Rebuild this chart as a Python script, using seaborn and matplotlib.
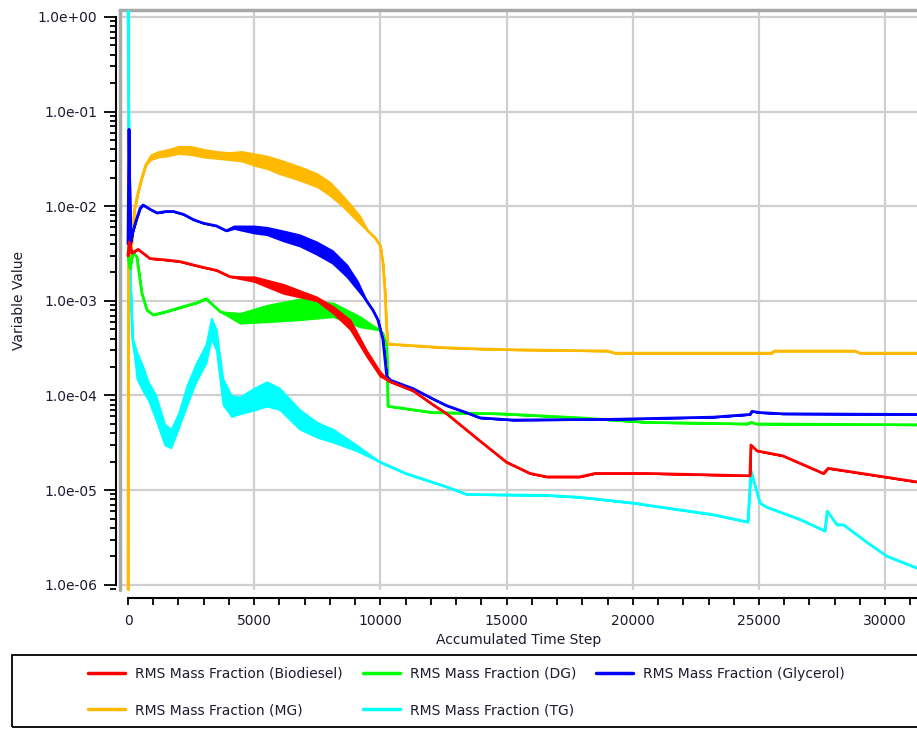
import numpy as np
import pandas as pd
import seaborn as sns
import matplotlib.pyplot as plt
from matplotlib.ticker import LogLocator, MultipleLocator, FuncFormatter, NullFormatter
from matplotlib.patches import Rectangle
from matplotlib.lines import Line2D

sns.set_theme(style="white")
plt.rcParams['font.family'] = ['DejaVu Sans']

# ---- data (step, lower edge, upper edge of the noisy band) ----
mg_x = [0, 30, 80, 150, 250, 400, 550, 700, 900, 1200, 1600, 2000, 2500, 3000, 3500,
        4000, 4500, 5000, 5500, 6000, 6500, 7000, 7500, 8000, 8500, 8900, 9200, 9500,
        9800, 10000, 10100, 10180, 10250, 10300, 11000, 12500, 14000, 15000, 19000,
        19300, 25500, 25600, 28800, 29000, 31260]
mg_lo = [5e-7, 0.06, 0.0025, 0.004, 0.009, 0.014, 0.02, 0.027, 0.031, 0.033, 0.034,
         0.036, 0.035, 0.033, 0.032, 0.031, 0.030, 0.027, 0.025, 0.022, 0.020, 0.018,
         0.016, 0.013, 0.010, 0.0078, 0.0065, 0.0055, 0.0046, 0.0038, 0.0025, 0.0013,
         0.0005, 0.00035, 0.00034, 0.00032, 0.00031, 0.000305, 0.000295, 0.00028,
         0.00028, 0.000295, 0.000295, 0.00028, 0.00028]
mg_hi = [5e-7, 0.06, 0.0025, 0.004, 0.009, 0.014, 0.02, 0.027, 0.035, 0.038, 0.040,
         0.043, 0.043, 0.040, 0.038, 0.037, 0.038, 0.036, 0.034, 0.031, 0.028, 0.025,
         0.022, 0.018, 0.013, 0.0098, 0.0078, 0.0055, 0.0046, 0.0038, 0.0025, 0.0013,
         0.0005, 0.00035, 0.00034, 0.00032, 0.00031, 0.000305, 0.000295, 0.00028,
         0.00028, 0.000295, 0.000295, 0.00028, 0.00028]

gly_x = [0, 40, 100, 200, 350, 480, 600, 900, 1150, 1500, 1800, 2200, 2600, 3000, 3500,
         3900, 4200, 5000, 5500, 6150, 6800, 7480, 8100, 8670, 9100, 9450, 9700, 9900,
         10100, 10250, 10400, 11300, 12080, 12630, 13400, 13950, 15260, 19220, 23180,
         24640, 24720, 25040, 25950, 31260]
gly_lo = [0.004, 0.065, 0.004, 0.0055, 0.0075, 0.0095, 0.0103, 0.0092, 0.0085, 0.0088,
          0.0088, 0.0082, 0.0072, 0.0066, 0.0062, 0.0055, 0.0058, 0.0052, 0.0050, 0.0043,
          0.0038, 0.0031, 0.0025, 0.0018, 0.0013, 0.0010, 0.0008, 0.00063, 0.00039,
          0.00016, 0.000145, 0.000118, 0.000092, 0.000078, 0.000066, 0.000058, 0.000055,
          0.000056, 0.000059, 0.000063, 0.000068, 0.000066, 0.000064, 0.000063]
gly_hi = [0.004, 0.065, 0.004, 0.0055, 0.0075, 0.0095, 0.0103, 0.0092, 0.0085, 0.0088,
          0.0088, 0.0082, 0.0072, 0.0066, 0.0062, 0.0055, 0.0062, 0.0062, 0.0060, 0.0055,
          0.0050, 0.0042, 0.0034, 0.0024, 0.0016, 0.0010, 0.0008, 0.00063, 0.00039,
          0.00016, 0.000145, 0.000118, 0.000092, 0.000078, 0.000066, 0.000058, 0.000055,
          0.000056, 0.000059, 0.000063, 0.000068, 0.000066, 0.000064, 0.000063]

bio_x = [0, 50, 150, 400, 870, 1530, 2060, 2850, 3510, 4040, 5000, 6150, 7480, 8130,
         8800, 9450, 9980, 10380, 11300, 12080, 12630, 13950, 15000, 15930, 16600, 17900,
         18500, 20560, 24520, 24640, 24680, 24920, 25950, 27550, 27740, 31260]
bio_lo = [0.0030, 0.0042, 0.0032, 0.0035, 0.0028, 0.0027, 0.0026, 0.0023, 0.0021, 0.0018,
          0.0016, 0.0012, 0.0010, 0.00074, 0.00050, 0.00026, 0.00016, 0.00014, 0.000112,
          0.000080, 0.000064, 0.000033, 0.0000197, 0.000015, 0.0000138, 0.0000138,
          0.000015, 0.000015, 0.0000142, 0.0000142, 0.000030, 0.000026, 0.000023,
          0.000015, 0.000017, 0.0000122]
bio_hi = [0.0030, 0.0042, 0.0032, 0.0035, 0.0028, 0.0027, 0.0026, 0.0023, 0.0021, 0.0018,
          0.0018, 0.0015, 0.0011, 0.00087, 0.00063, 0.00030, 0.00018, 0.00014, 0.000112,
          0.000080, 0.000064, 0.000033, 0.0000197, 0.000015, 0.0000138, 0.0000138,
          0.000015, 0.000015, 0.0000142, 0.0000142, 0.000030, 0.000026, 0.000023,
          0.000015, 0.000017, 0.0000122]

dg_x = [0, 80, 200, 350, 550, 750, 1000, 1600, 2200, 2700, 3100, 3650, 4440, 5500, 6800,
        8130, 9200, 9980, 10100, 10250, 10300, 12080, 14740, 15260, 17900, 20560, 24520,
        24700, 24900, 31260]
dg_lo = [0.003, 0.0022, 0.0033, 0.0029, 0.0012, 0.0008, 0.00071, 0.00078, 0.00087,
         0.00095, 0.00105, 0.00077, 0.00058, 0.00060, 0.00063, 0.00068, 0.00053, 0.00049,
         0.00045, 0.00033, 0.000077, 0.000066, 0.000064, 0.000063, 0.000058, 0.000052,
         0.000050, 0.000052, 0.000050, 0.000049]
dg_hi = [0.003, 0.0022, 0.0033, 0.0029, 0.0012, 0.0008, 0.00071, 0.00078, 0.00087,
         0.00095, 0.00105, 0.00077, 0.00074, 0.00090, 0.00105, 0.00095, 0.00068, 0.00049,
         0.00045, 0.00033, 0.000077, 0.000066, 0.000064, 0.000063, 0.000058, 0.000052,
         0.000050, 0.000052, 0.000050, 0.000049]

tg_x = [0, 60, 100, 180, 350, 600, 800, 1110, 1450, 1700, 2000, 2340, 2700, 3090, 3300,
        3500, 3760, 4100, 4440, 5000, 5500, 6000, 6800, 7500, 8130, 9060, 10000, 11000,
        12630, 13430, 16600, 17900, 20000, 23180, 24560, 24680, 25040, 25310, 26620,
        27610, 27700, 28090, 28350, 29280, 30070, 31260]
tg_lo = [2.0, 0.004, 0.0015, 0.0004, 0.00015, 0.00011, 0.00009, 0.000055, 0.000030,
         0.000028, 0.000045, 0.00008, 0.00014, 0.00022, 0.00040, 0.00030, 0.00008, 0.00006,
         0.000064, 0.00007, 0.000077, 0.000071, 0.000044, 0.000036, 0.000032, 0.000026,
         0.0000197, 0.000015, 0.0000108, 0.000009, 0.0000088, 0.0000084, 0.0000073,
         0.0000055, 0.0000046, 0.000016, 0.0000073, 0.0000066, 0.0000049, 0.0000037,
         0.0000060, 0.0000043, 0.0000043, 0.0000028, 0.0000020, 0.0000015]
tg_hi = [2.0, 0.004, 0.0015, 0.0004, 0.00029, 0.00020, 0.00014, 0.0001, 0.000050,
         0.000044, 0.000065, 0.00013, 0.00022, 0.00035, 0.00066, 0.00050, 0.00015, 0.0001,
         0.000097, 0.00012, 0.00014, 0.00012, 0.000071, 0.000052, 0.000044, 0.000030,
         0.0000197, 0.000015, 0.0000108, 0.000009, 0.0000088, 0.0000084, 0.0000073,
         0.0000055, 0.0000046, 0.000016, 0.0000073, 0.0000066, 0.0000049, 0.0000037,
         0.0000060, 0.0000043, 0.0000043, 0.0000028, 0.0000020, 0.0000015]

labels = ["RMS Mass Fraction (Biodiesel)", "RMS Mass Fraction (DG)",
          "RMS Mass Fraction (Glycerol)", "RMS Mass Fraction (MG)",
          "RMS Mass Fraction (TG)"]
colors = ["#ff0000", "#00ff00", "#0000ff", "#ffb900", "#00ffff"]

series = {
    labels[0]: (bio_x, bio_lo, bio_hi),
    labels[1]: (dg_x, dg_lo, dg_hi),
    labels[2]: (gly_x, gly_lo, gly_hi),
    labels[3]: (mg_x, mg_lo, mg_hi),
    labels[4]: (tg_x, tg_lo, tg_hi),
}
palette = dict(zip(labels, colors))

rows = []
for name, (xs, lo, hi) in series.items():
    for x, l, h in zip(xs, lo, hi):
        rows.append({"step": x, "value": np.sqrt(l * h), "series": name})
df = pd.DataFrame(rows)

fig = plt.figure(figsize=(9.17, 7.38), dpi=100)
ax = fig.add_axes([120 / 917, 1 - 590 / 738, 797 / 917, 580 / 738])

# drawing order: TG, MG, DG, Glycerol, Biodiesel on top
order = [labels[4], labels[3], labels[1], labels[2], labels[0]]
for z, name in enumerate(order):
    xs, lo, hi = series[name]
    ax.fill_between(xs, lo, hi, color=palette[name], edgecolor=palette[name],
                    lw=1.2, zorder=3 + z)
    sns.lineplot(data=df[df["series"] == name], x="step", y="value", color=palette[name],
                 estimator=None, sort=False, lw=2.0, ax=ax, zorder=3 + z, legend=False)

ax.set_yscale("log")
ax.set_xlim(-317, 31260)
ax.set_ylim(8.8e-7, 1.185)

ax.grid(True, which="major", color="#cfcfcf", lw=1.6, zorder=0)

# axes styling like the original tool
ax.spines["right"].set_visible(False)
ax.spines["top"].set_color("#a8a8a8")
ax.spines["top"].set_linewidth(2.5)
ax.spines["left"].set_position(("outward", 3))
ax.spines["left"].set_color("black")
ax.spines["left"].set_linewidth(1.5)
ax.spines["left"].set_bounds(1e-6, 1.0)
ax.spines["bottom"].set_position(("outward", 6))
ax.spines["bottom"].set_color("black")
ax.spines["bottom"].set_linewidth(1.5)
ax.spines["bottom"].set_bounds(0, 31260)
ax.add_line(Line2D([0, 0], [0, 1], transform=ax.transAxes, color="#a8a8a8", lw=2.5,
                   clip_on=False, zorder=10))

ax.yaxis.set_major_locator(LogLocator(base=10, numticks=10))
ax.yaxis.set_minor_locator(LogLocator(base=10, subs=range(2, 10), numticks=20))
ax.yaxis.set_major_formatter(FuncFormatter(lambda v, p: f"{v:.1e}"))
ax.yaxis.set_minor_formatter(NullFormatter())
ax.xaxis.set_major_locator(MultipleLocator(5000))
ax.xaxis.set_minor_locator(MultipleLocator(1000))

fs = 10
tick_col = "#1c1c30"
ax.tick_params(axis="y", which="major", direction="out", length=8.5, width=1.3,
               color="black", labelsize=fs, labelcolor=tick_col, pad=5, left=True)
ax.tick_params(axis="y", which="minor", direction="out", length=4.3, width=1.3,
               color="black", left=True)
ax.tick_params(axis="x", which="major", direction="out", length=5, width=1.3,
               color="black", labelsize=fs, labelcolor=tick_col, pad=6, bottom=True)
ax.tick_params(axis="x", which="minor", direction="out", length=5, width=1.3,
               color="black", bottom=True)

ax.set_xlabel("Accumulated Time Step", fontsize=fs, color=tick_col, labelpad=4)
ax.set_ylabel("Variable Value", fontsize=fs, color=tick_col, labelpad=8)

# legend box below the plot, entries laid out row by row
fig.add_artist(Rectangle((12 / 917, 1 - 727 / 738), 0.995, 72 / 738, transform=fig.transFigure,
                         fill=False, edgecolor="black", lw=1.3))
handles = [Line2D([], [], color=c, lw=2.5) for c in colors]
idx = [0, 3, 1, 4, 2]
fig.legend([handles[i] for i in idx], [labels[i] for i in idx], ncol=3, loc="center",
           bbox_to_anchor=(0.509, 1 - 692 / 738), frameon=False, fontsize=fs,
           handlelength=2.66, handletextpad=0.72, columnspacing=1.44, labelspacing=1.6,
           labelcolor=tick_col)

fig.savefig("out.png", dpi=100)
